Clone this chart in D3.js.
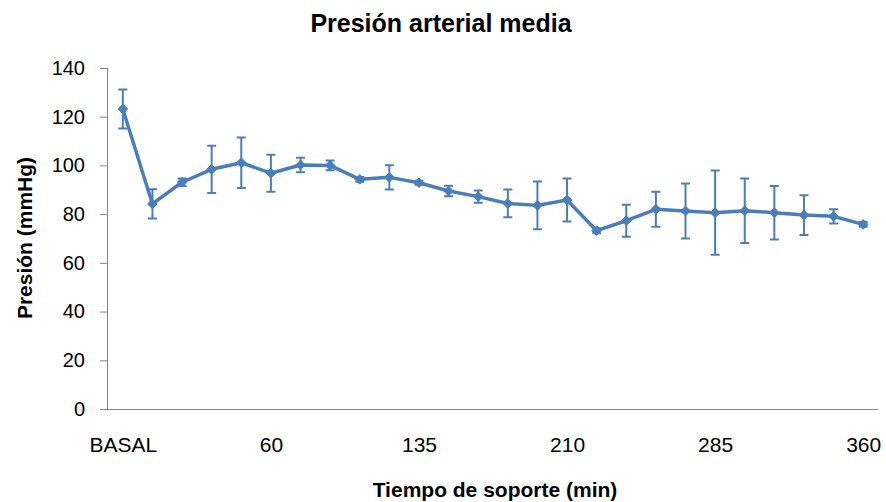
<!DOCTYPE html>
<html>
<head>
<meta charset="utf-8">
<script src="https://cdn.jsdelivr.net/npm/d3@7"></script>
<style>
  html, body { margin: 0; padding: 0; background: #fff; }
  svg { display: block; font-family: "Liberation Sans", Arial, sans-serif; }
</style>
</head>
<body>
<svg id="chart" width="886" height="502"></svg>
<script>
// Time points (min) of support
const categories = ["BASAL", "0", "15", "30", "45", "60", "75", "90", "105", "120", "135", "150", "165",
  "180", "195", "210", "225", "240", "255", "270", "285", "300", "315", "330", "345", "360"];
// Mean arterial pressure (mmHg)
const meanValues = [123.2, 84.2, 93.1, 98.4, 101.1, 96.8, 100.2, 100.0, 94.3, 95.1, 92.9, 89.5, 87.2,
  84.4, 83.6, 85.8, 73.2, 77.3, 82.0, 81.3, 80.6, 81.4, 80.6, 79.6, 79.1, 75.8];
// Error (± mmHg)
const errorValues = [8.0, 6.0, 1.5, 9.7, 10.4, 7.6, 3.0, 2.0, 1.0, 5.0, 0.8, 2.2, 2.5,
  5.7, 9.8, 8.8, 1.0, 6.6, 7.2, 11.3, 17.3, 13.2, 11.0, 8.2, 2.9, 1.0];
// Categories that carry a label on the x axis
const xTickLabels = ["BASAL", "60", "135", "210", "285", "360"];
const yTicks = [0, 20, 40, 60, 80, 100, 120, 140];

const svg = d3.select("#chart");
const plotLeft = 108, plotRight = 878, plotTop = 68, plotBottom = 409;
const blue = "#4a7ebb";
const axisGray = "#868686";

const x = d3.scalePoint().domain(categories).range([plotLeft, plotRight]).padding(0.5);
const y = d3.scaleLinear().domain([0, 140]).range([plotBottom, plotTop]);

const data = categories.map((c, i) => ({ c, v: meanValues[i], e: errorValues[i] }));

// Title
svg.append("text")
  .attr("x", 441).attr("y", 32)
  .attr("text-anchor", "middle")
  .style("font-size", "25px").style("font-weight", "bold")
  .text("Presión arterial media");

// Y axis
const yAxis = svg.append("g")
  .attr("transform", `translate(${plotLeft},0)`)
  .call(d3.axisLeft(y).tickValues(yTicks).tickSize(8).tickPadding(15));
yAxis.select(".domain").attr("stroke", axisGray).attr("d", `M-0.5,${plotTop}V${plotBottom}`);
yAxis.selectAll(".tick line").attr("stroke", axisGray);
yAxis.selectAll(".tick text").style("font-size", "20px").attr("fill", "#000");

// X axis
const xAxis = svg.append("g")
  .attr("transform", `translate(0,${plotBottom})`)
  .call(d3.axisBottom(x).tickValues(xTickLabels).tickSize(0).tickPadding(28));
xAxis.select(".domain").attr("stroke", axisGray).attr("d", `M${plotLeft - 8},0.5H${plotRight}`);
xAxis.selectAll(".tick text").style("font-size", "21px").attr("fill", "#000");

// Axis titles
svg.append("text")
  .attr("transform", `translate(32,238) rotate(-90)`)
  .attr("text-anchor", "middle")
  .style("font-size", "21px").style("font-weight", "bold")
  .text("Presión (mmHg)");
svg.append("text")
  .attr("x", 495).attr("y", 497)
  .attr("text-anchor", "middle")
  .style("font-size", "21px").style("font-weight", "bold")
  .text("Tiempo de soporte (min)");

// Error bars
const capHalf = 4.5;
const eb = svg.append("g").attr("stroke", blue).attr("stroke-width", 2).attr("fill", "none");
eb.selectAll("path").data(data).join("path")
  .attr("d", d => {
    const cx = x(d.c), y1 = y(d.v + d.e), y2 = y(d.v - d.e);
    return `M${cx},${y1}V${y2}M${cx - capHalf},${y1}H${cx + capHalf}M${cx - capHalf},${y2}H${cx + capHalf}`;
  });

// Line
svg.append("path").datum(data)
  .attr("fill", "none").attr("stroke", blue).attr("stroke-width", 3.5)
  .attr("stroke-linejoin", "round")
  .attr("d", d3.line().x(d => x(d.c)).y(d => y(d.v)));

// Diamond markers
svg.append("g").selectAll("path").data(data).join("path")
  .attr("transform", d => `translate(${x(d.c)},${y(d.v)})`)
  .attr("d", d3.symbol(d3.symbolDiamond2, 60))
  .attr("fill", blue).attr("stroke", blue).attr("stroke-width", 1);
</script>
</body>
</html>
